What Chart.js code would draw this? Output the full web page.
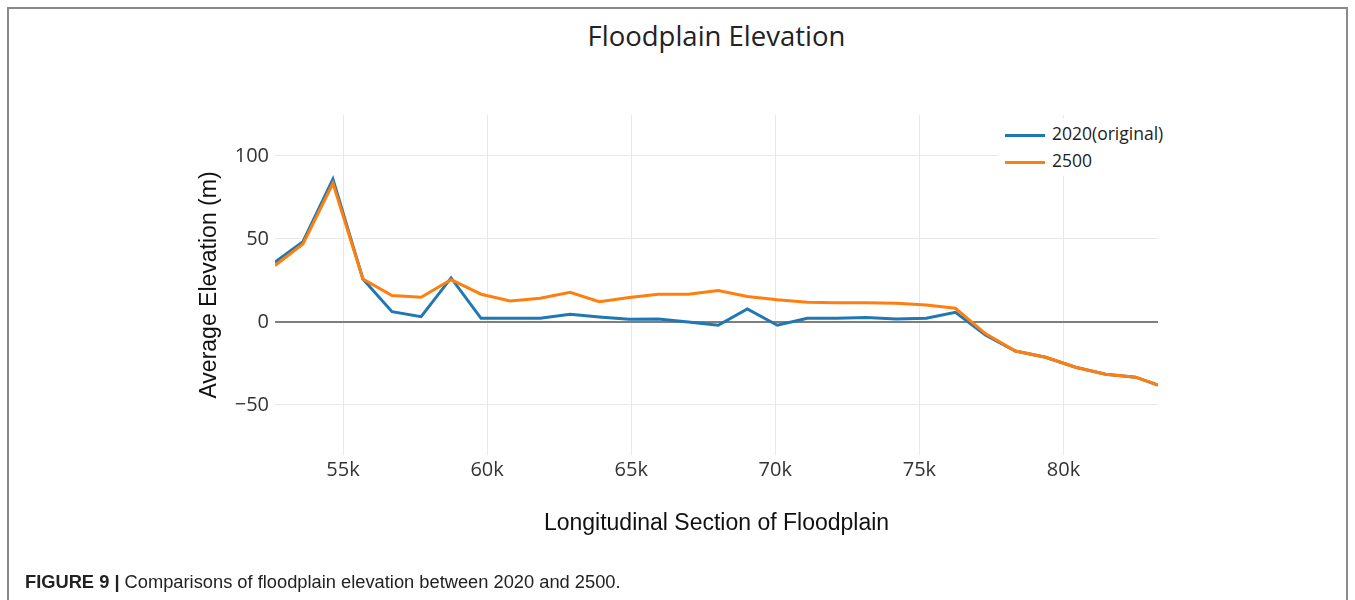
<!DOCTYPE html>
<html>
<head>
<meta charset="utf-8">
<script src="https://cdn.jsdelivr.net/npm/chart.js@4"></script>
<style>
  body { margin: 0; background: #fff; width: 1355px; height: 600px; overflow: hidden; position: relative; }
  #frame { position: absolute; left: 7px; top: 7px; width: 1341px; height: 620px; border: 2px solid #8a8a8a; border-bottom: none; box-sizing: border-box; }
  #chartTitle { position: absolute; left: 0; width: 1433px; top: 17px; text-align: center; font: 27.5px "Open Sans", sans-serif; color: #222; }
  #legend { position: absolute; left: 998px; top: 118px; width: 175px; height: 58px; background: #fff; font: 17.5px "Open Sans", sans-serif; color: #222; }
  .item { position: absolute; left: 7px; height: 24px; line-height: 24px; }
  .swatch { display: inline-block; width: 40px; height: 3px; vertical-align: middle; margin-right: 7px; }
  #caption { position: absolute; left: 25px; top: 571px; font: 18.3px "Liberation Sans", Arial, sans-serif; color: #222; }
  canvas { position: absolute; left: 0; top: 0; }
</style>
</head>
<body>
<div id="frame"></div>
<div id="chartTitle">Floodplain Elevation</div>
<canvas id="elevationChart" width="1355" height="600"></canvas>
<div id="legend">
  <div class="item" style="top:3px"><span class="swatch" style="background:#1f77b4"></span>2020(original)</div>
  <div class="item" style="top:30px"><span class="swatch" style="background:#ff7f0e"></span>2500</div>
</div>
<div id="caption"><b>FIGURE 9 |</b> Comparisons of floodplain elevation between 2020 and 2500.</div>

<script>
// section positions along the floodplain (m)
const sections = [52640, 53610, 54650, 55690, 56700, 57710, 58750, 59790, 60800, 61840,
  62880, 63890, 64930, 65940, 66980, 68020, 69030, 70070, 71110, 72120,
  73160, 74200, 75240, 76250, 77290, 78330, 79380, 80420, 81460, 82500, 83280];

// average elevation (m)
const elev2020 = [36, 48.4, 86, 25.9, 6.2, 3.2, 26.5, 2.2, 2.2, 2.2,
  4.6, 3.0, 1.6, 1.8, 0, -2.0, 7.8, -2.0, 2.2, 2.2,
  2.6, 1.8, 2.2, 5.8, -7.8, -17.5, -21.3, -27.3, -31.5, -33.3, -38];
const elev2500 = [34, 47, 83.5, 25.9, 15.9, 14.9, 25.5, 16.7, 12.6, 14.3,
  17.9, 12.2, 14.7, 16.7, 16.7, 18.9, 15.3, 13.3, 11.8, 11.5,
  11.5, 11.2, 10.2, 8.2, -7.0, -17.5, -21.3, -27.3, -31.5, -33.3, -38];

const xTicks = [55000, 60000, 65000, 70000, 75000, 80000];
const yTicks = [-50, 0, 50, 100];

const toPoints = (ys) => ys.map((y, i) => ({ x: sections[i], y: y }));

const tickFont = { family: "Open Sans", size: 20 };
const titleFont = { family: "Liberation Sans", size: 23 };

const ctx = document.getElementById("elevationChart").getContext("2d");
new Chart(ctx, {
  type: "line",
  data: {
    datasets: [
      {
        label: "2020(original)",
        data: toPoints(elev2020),
        borderColor: "#1f77b4",
        borderWidth: 3,
        pointRadius: 0,
        tension: 0,
        order: 1,
      },
      {
        label: "2500",
        data: toPoints(elev2500),
        borderColor: "#ff7f0e",
        borderWidth: 3,
        pointRadius: 0,
        tension: 0,
        order: 0, // drawn on top
      },
    ],
  },
  options: {
    responsive: false,
    animation: false,
    layout: { padding: { left: 0, top: 115, right: 197, bottom: 0 } },
    plugins: {
      legend: { display: false },
      tooltip: { enabled: false },
    },
    scales: {
      x: {
        type: "linear",
        min: 52640,
        max: 83280,
        afterFit: (scale) => { scale.height = 145; },
        afterBuildTicks: (scale) => { scale.ticks = xTicks.map((v) => ({ value: v })); },
        grid: { color: "#e8e8e8", lineWidth: 1, drawTicks: false },
        border: { display: false },
        ticks: {
          padding: 3,
          font: tickFont,
          color: "#333",
          maxRotation: 0,
          callback: (v) => v / 1000 + "k",
        },
        title: {
          display: true,
          text: "Longitudinal Section of Floodplain",
          font: titleFont,
          color: "#111",
          padding: { top: 0, bottom: 63 },
        },
      },
      y: {
        min: -80.2,
        max: 124.7,
        afterFit: (scale) => { scale.width = 275; },
        afterBuildTicks: (scale) => { scale.ticks = yTicks.map((v) => ({ value: v })); },
        grid: {
          color: (c) => (c.tick && c.tick.value === 0 ? "#7f7f7f" : "#e8e8e8"),
          lineWidth: (c) => (c.tick && c.tick.value === 0 ? 2 : 1),
          drawTicks: false,
        },
        border: { display: false },
        ticks: {
          padding: 6,
          font: tickFont,
          color: "#333",
          callback: (v) => (v < 0 ? "\u2212" + Math.abs(v) : String(v)),
        },
        title: {
          display: true,
          text: "Average Elevation (m)",
          font: titleFont,
          color: "#111",
          padding: { top: 196, bottom: 0 },
        },
      },
    },
  },
});
</script>
</body>
</html>
